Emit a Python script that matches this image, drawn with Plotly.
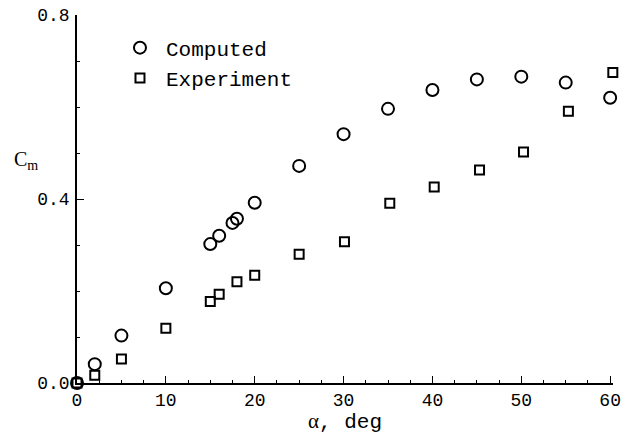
import plotly.graph_objects as go

alpha_computed = [0, 2, 5, 10, 15, 16, 17.5, 18, 20, 25, 30, 35, 40, 45, 50, 55, 60]
cm_computed = [0.0, 0.041, 0.103, 0.206, 0.302, 0.320, 0.348, 0.357, 0.392, 0.472,
               0.541, 0.596, 0.637, 0.660, 0.666, 0.653, 0.620]
alpha_exp = [0, 2, 5, 10, 15, 16, 18, 20, 25, 30.1, 35.2, 40.2, 45.3, 50.25, 55.3, 60.3]
cm_exp = [0.0, 0.017, 0.052, 0.119, 0.177, 0.193, 0.220, 0.234, 0.280, 0.307,
          0.391, 0.426, 0.463, 0.502, 0.591, 0.675]

MONO = "Liberation Mono, Courier New, monospace"
SERIF = "Liberation Serif, Times New Roman, serif"

fig = go.Figure()
fig.add_trace(go.Scatter(
    x=alpha_computed, y=cm_computed, mode="markers", name="Computed",
    marker=dict(symbol="circle-open", size=12, color="black", line=dict(width=2, color="black")),
    cliponaxis=False,
))
fig.add_trace(go.Scatter(
    x=alpha_exp, y=cm_exp, mode="markers", name="Experiment",
    marker=dict(symbol="square-open", size=9, color="black", line=dict(width=2, color="black")),
    cliponaxis=False,
))

fig.update_layout(
    width=631, height=434,
    margin=dict(l=77, r=18, t=15, b=51, autoexpand=False),
    paper_bgcolor="white", plot_bgcolor="white",
    font=dict(family=MONO, size=18, color="black"),
    showlegend=True,
    legend=dict(x=0.069, y=0.966, xanchor="left", yanchor="top",
                font=dict(family=MONO, size=21, color="black"),
                bgcolor="rgba(0,0,0,0)", tracegroupgap=0, itemwidth=42),
    xaxis=dict(
        range=[0, 60.32], showgrid=False, zeroline=False, automargin=False,
        showline=True, linecolor="black", linewidth=1.5,
        ticks="inside", ticklen=7, tickwidth=1, tickcolor="black",
        tickmode="linear", tick0=0, dtick=10, ticklabeloverflow="allow",
        minor=dict(ticks="inside", ticklen=3, tickwidth=1, tickcolor="black", dtick=2.5, tick0=0),
        tickfont=dict(family=MONO, size=18),
        title=dict(text="<span style='font-family:Liberation Serif'>α</span>, deg",
                   font=dict(family=MONO, size=21), standoff=9),
    ),
    yaxis=dict(
        range=[0, 0.8], showgrid=False, zeroline=False, automargin=False,
        showline=True, linecolor="black", linewidth=1.5,
        ticks="inside", ticklen=7, tickwidth=1, tickcolor="black",
        tickmode="linear", tick0=0, dtick=0.4, tickformat=".1f",
        ticklabelstandoff=2, ticklabeloverflow="allow",
        minor=dict(ticks="inside", ticklen=3, tickwidth=1, tickcolor="black", dtick=0.1, tick0=0),
        tickfont=dict(family=MONO, size=18),
    ),
    annotations=[dict(
        text="C<sub>m</sub>", xref="paper", yref="paper",
        x=-0.095, y=0.605, xanchor="center", yanchor="middle", showarrow=False,
        font=dict(family=SERIF, size=20, color="black"),
    )],
)

fig.write_html("out.html", config={"displayModeBar": False},
               post_script="document.body.style.margin='0';")
